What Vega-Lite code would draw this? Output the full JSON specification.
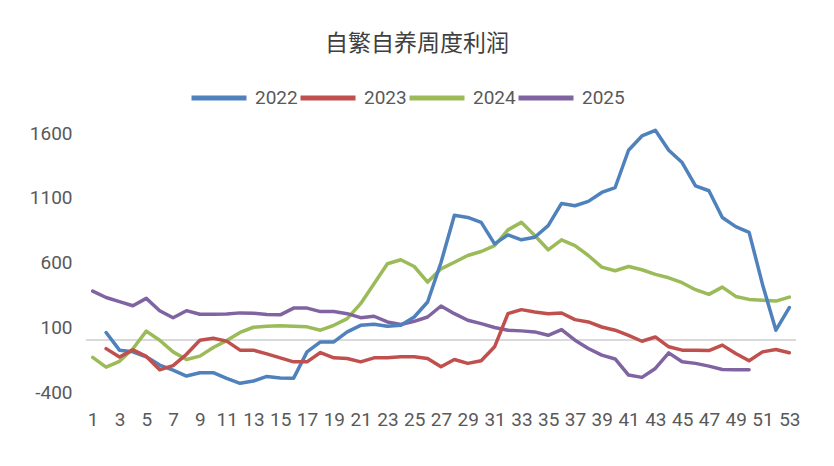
{
  "$schema": "https://vega.github.io/schema/vega-lite/v6.json",
  "width": 710,
  "height": 259,
  "autosize": {"type": "none"},
  "padding": {"left": 86, "top": 133, "right": 38, "bottom": 74},
  "background": "white",
  "title": {"text": "自繁自养周度利润", "font": "Noto Sans CJK SC", "fontSize": 23, "fontWeight": "normal", "color": "#404040", "anchor": "middle", "frame": "group", "dx": -24, "offset": 12},
  "config": {"view": {"stroke": null}, "axis": {"labelFont": "Roboto", "labelFontSize": 19, "labelColor": "#595959"}},
  "data": {"values": [
    {"w":1,"s":"2024","v":-133},{"w":1,"s":"2025","v":379},
    {"w":2,"s":"2022","v":59},{"w":2,"s":"2023","v":-65},{"w":2,"s":"2024","v":-208},{"w":2,"s":"2025","v":330},
    {"w":3,"s":"2022","v":-77},{"w":3,"s":"2023","v":-130},{"w":3,"s":"2024","v":-163},{"w":3,"s":"2025","v":298},
    {"w":4,"s":"2022","v":-90},{"w":4,"s":"2023","v":-75},{"w":4,"s":"2024","v":-66},{"w":4,"s":"2025","v":266},
    {"w":5,"s":"2022","v":-128},{"w":5,"s":"2023","v":-125},{"w":5,"s":"2024","v":70},{"w":5,"s":"2025","v":323},
    {"w":6,"s":"2022","v":-192},{"w":6,"s":"2023","v":-228},{"w":6,"s":"2024","v":0},{"w":6,"s":"2025","v":228},
    {"w":7,"s":"2022","v":-231},{"w":7,"s":"2023","v":-196},{"w":7,"s":"2024","v":-90},{"w":7,"s":"2025","v":173},
    {"w":8,"s":"2022","v":-277},{"w":8,"s":"2023","v":-109},{"w":8,"s":"2024","v":-149},{"w":8,"s":"2025","v":228},
    {"w":9,"s":"2022","v":-251},{"w":9,"s":"2023","v":0},{"w":9,"s":"2024","v":-123},{"w":9,"s":"2025","v":200},
    {"w":10,"s":"2022","v":-251},{"w":10,"s":"2023","v":15},{"w":10,"s":"2024","v":-56},{"w":10,"s":"2025","v":200},
    {"w":11,"s":"2022","v":-295},{"w":11,"s":"2023","v":-7},{"w":11,"s":"2024","v":-3},{"w":11,"s":"2025","v":203},
    {"w":12,"s":"2022","v":-333},{"w":12,"s":"2023","v":-77},{"w":12,"s":"2024","v":60},{"w":12,"s":"2025","v":211},
    {"w":13,"s":"2022","v":-315},{"w":13,"s":"2023","v":-77},{"w":13,"s":"2024","v":100},{"w":13,"s":"2025","v":208},
    {"w":14,"s":"2022","v":-280},{"w":14,"s":"2023","v":-106},{"w":14,"s":"2024","v":108},{"w":14,"s":"2025","v":199},
    {"w":15,"s":"2022","v":-291},{"w":15,"s":"2023","v":-136},{"w":15,"s":"2024","v":112},{"w":15,"s":"2025","v":196},
    {"w":16,"s":"2022","v":-293},{"w":16,"s":"2023","v":-167},{"w":16,"s":"2024","v":108},{"w":16,"s":"2025","v":248},
    {"w":17,"s":"2022","v":-90},{"w":17,"s":"2023","v":-167},{"w":17,"s":"2024","v":103},{"w":17,"s":"2025","v":248},
    {"w":18,"s":"2022","v":-13},{"w":18,"s":"2023","v":-95},{"w":18,"s":"2024","v":77},{"w":18,"s":"2025","v":221},
    {"w":19,"s":"2022","v":-13},{"w":19,"s":"2023","v":-136},{"w":19,"s":"2024","v":115},{"w":19,"s":"2025","v":221},
    {"w":20,"s":"2022","v":64},{"w":20,"s":"2023","v":-141},{"w":20,"s":"2024","v":167},{"w":20,"s":"2025","v":205},
    {"w":21,"s":"2022","v":115},{"w":21,"s":"2023","v":-167},{"w":21,"s":"2024","v":282},{"w":21,"s":"2025","v":174},
    {"w":22,"s":"2022","v":123},{"w":22,"s":"2023","v":-136},{"w":22,"s":"2024","v":436},{"w":22,"s":"2025","v":185},
    {"w":23,"s":"2022","v":108},{"w":23,"s":"2023","v":-136},{"w":23,"s":"2024","v":590},{"w":23,"s":"2025","v":141},
    {"w":24,"s":"2022","v":115},{"w":24,"s":"2023","v":-128},{"w":24,"s":"2024","v":621},{"w":24,"s":"2025","v":121},
    {"w":25,"s":"2022","v":179},{"w":25,"s":"2023","v":-128},{"w":25,"s":"2024","v":569},{"w":25,"s":"2025","v":146},
    {"w":26,"s":"2022","v":295},{"w":26,"s":"2023","v":-141},{"w":26,"s":"2024","v":449},{"w":26,"s":"2025","v":179},
    {"w":27,"s":"2022","v":600},{"w":27,"s":"2023","v":-205},{"w":27,"s":"2024","v":551},{"w":27,"s":"2025","v":264},
    {"w":28,"s":"2022","v":965},{"w":28,"s":"2023","v":-149},{"w":28,"s":"2024","v":602},{"w":28,"s":"2025","v":205},
    {"w":29,"s":"2022","v":948},{"w":29,"s":"2023","v":-179},{"w":29,"s":"2024","v":654},{"w":29,"s":"2025","v":154},
    {"w":30,"s":"2022","v":910},{"w":30,"s":"2023","v":-159},{"w":30,"s":"2024","v":685},{"w":30,"s":"2025","v":128},
    {"w":31,"s":"2022","v":744},{"w":31,"s":"2023","v":-51},{"w":31,"s":"2024","v":731},{"w":31,"s":"2025","v":98},
    {"w":32,"s":"2022","v":813},{"w":32,"s":"2023","v":205},{"w":32,"s":"2024","v":852},{"w":32,"s":"2025","v":77},
    {"w":33,"s":"2022","v":775},{"w":33,"s":"2023","v":236},{"w":33,"s":"2024","v":910},{"w":33,"s":"2025","v":72},
    {"w":34,"s":"2022","v":795},{"w":34,"s":"2023","v":218},{"w":34,"s":"2024","v":808},{"w":34,"s":"2025","v":64},
    {"w":35,"s":"2022","v":885},{"w":35,"s":"2023","v":205},{"w":35,"s":"2024","v":698},{"w":35,"s":"2025","v":38},
    {"w":36,"s":"2022","v":1056},{"w":36,"s":"2023","v":210},{"w":36,"s":"2024","v":775},{"w":36,"s":"2025","v":82},
    {"w":37,"s":"2022","v":1038},{"w":37,"s":"2023","v":159},{"w":37,"s":"2024","v":731},{"w":37,"s":"2025","v":0},
    {"w":38,"s":"2022","v":1072},{"w":38,"s":"2023","v":141},{"w":38,"s":"2024","v":654},{"w":38,"s":"2025","v":-64},
    {"w":39,"s":"2022","v":1141},{"w":39,"s":"2023","v":102},{"w":39,"s":"2024","v":564},{"w":39,"s":"2025","v":-115},
    {"w":40,"s":"2022","v":1179},{"w":40,"s":"2023","v":77},{"w":40,"s":"2024","v":536},{"w":40,"s":"2025","v":-145},
    {"w":41,"s":"2022","v":1467},{"w":41,"s":"2023","v":38},{"w":41,"s":"2024","v":569},{"w":41,"s":"2025","v":-269},
    {"w":42,"s":"2022","v":1577},{"w":42,"s":"2023","v":-8},{"w":42,"s":"2024","v":544},{"w":42,"s":"2025","v":-287},
    {"w":43,"s":"2022","v":1621},{"w":43,"s":"2023","v":25},{"w":43,"s":"2024","v":508},{"w":43,"s":"2025","v":-218},
    {"w":44,"s":"2022","v":1467},{"w":44,"s":"2023","v":-51},{"w":44,"s":"2024","v":482},{"w":44,"s":"2025","v":-98},
    {"w":45,"s":"2022","v":1372},{"w":45,"s":"2023","v":-77},{"w":45,"s":"2024","v":444},{"w":45,"s":"2025","v":-167},
    {"w":46,"s":"2022","v":1192},{"w":46,"s":"2023","v":-77},{"w":46,"s":"2024","v":390},{"w":46,"s":"2025","v":-179},
    {"w":47,"s":"2022","v":1154},{"w":47,"s":"2023","v":-80},{"w":47,"s":"2024","v":354},{"w":47,"s":"2025","v":-200},
    {"w":48,"s":"2022","v":948},{"w":48,"s":"2023","v":-38},{"w":48,"s":"2024","v":410},{"w":48,"s":"2025","v":-226},
    {"w":49,"s":"2022","v":877},{"w":49,"s":"2023","v":-103},{"w":49,"s":"2024","v":338},{"w":49,"s":"2025","v":-228},
    {"w":50,"s":"2022","v":833},{"w":50,"s":"2023","v":-159},{"w":50,"s":"2024","v":315},{"w":50,"s":"2025","v":-228},
    {"w":51,"s":"2022","v":431},{"w":51,"s":"2023","v":-90},{"w":51,"s":"2024","v":308},
    {"w":52,"s":"2022","v":77},{"w":52,"s":"2023","v":-72},{"w":52,"s":"2024","v":302},
    {"w":53,"s":"2022","v":252},{"w":53,"s":"2023","v":-97},{"w":53,"s":"2024","v":333}
  ]},
  "layer": [
    {
      "mark": {"type": "rule", "color": "#d9d9d9", "strokeWidth": 1.5},
      "encoding": {
        "y": {"datum": 0, "type": "quantitative", "scale": {"domain": [-400, 1600], "nice": false, "zero": false},
              "axis": {"values": [-400, 100, 600, 1100, 1600], "labelExpr": "'' + datum.value", "title": null, "domain": false, "ticks": false, "gridColor": "#d9d9d9", "gridWidth": 1.5, "labelPadding": 14}}
      }
    },
    {
      "mark": {"type": "line", "strokeWidth": 3.5, "strokeJoin": "round", "strokeCap": "round"},
      "encoding": {
        "x": {"field": "w", "type": "quantitative", "scale": {"domain": [0.5, 53.5], "nice": false, "zero": false},
              "axis": {"values": [1,3,5,7,9,11,13,15,17,19,21,23,25,27,29,31,33,35,37,39,41,43,45,47,49,51,53], "title": null, "grid": false, "domain": false, "ticks": false, "labelPadding": 18, "labelFlush": false}},
        "y": {"field": "v", "type": "quantitative", "scale": {"domain": [-400, 1600], "nice": false, "zero": false},
              "axis": {"values": [-400, 100, 600, 1100, 1600], "labelExpr": "'' + datum.value", "title": null, "domain": false, "ticks": false, "gridColor": "#d9d9d9", "gridWidth": 1.5, "labelPadding": 14}},
        "color": {"field": "s", "type": "nominal",
                  "scale": {"domain": ["2022", "2023", "2024", "2025"], "range": ["#4f81bd", "#c0504d", "#9bbb59", "#8064a2"]},
                  "legend": {"orient": "none", "legendX": 103, "legendY": -65, "direction": "horizontal", "title": null,
                             "symbolType": "stroke", "symbolSize": 3025, "symbolStrokeWidth": 5,
                             "labelFont": "Roboto", "labelFontSize": 19, "labelColor": "#595959", "labelOffset": 6, "columnPadding": -8}}
      }
    }
  ]
}
